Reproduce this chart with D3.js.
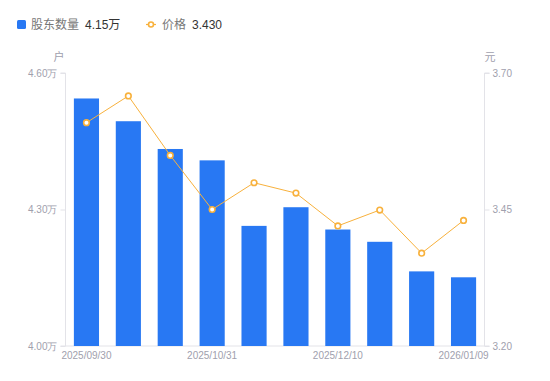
<!DOCTYPE html>
<html><head><meta charset="utf-8">
<script src="https://cdn.jsdelivr.net/npm/d3@7"></script>
<style>
html,body{margin:0;padding:0;background:#fff;}
svg{display:block;font-family:"Liberation Sans","Noto Sans CJK SC",sans-serif;}
</style></head>
<body><svg id="c" width="550" height="381"></svg>
<script>
const categories = ["2025/09/30","2025/10/10","2025/10/20","2025/10/31","2025/11/10","2025/11/20","2025/12/10","2025/12/19","2025/12/31","2026/01/09"];
const holders = [4.544, 4.494, 4.433, 4.408, 4.264, 4.305, 4.256, 4.229, 4.164, 4.151];
const prices = [3.609, 3.658, 3.549, 3.450, 3.499, 3.480, 3.420, 3.449, 3.370, 3.430];
const leftTicks = [4.00, 4.30, 4.60];
const rightTicks = [3.20, 3.45, 3.70];
const xTickLabels = ["2025/09/30","2025/10/31","2025/12/10","2026/01/09"];

const svg = d3.select("#c");
const m = {l:65.5, r:484.5, t:73, b:346};
const x = d3.scaleBand().domain(categories).range([m.l, m.r]).paddingInner(0.4).paddingOuter(0.2);
const yL = d3.scaleLinear().domain([4.00, 4.60]).range([m.b, m.t]);
const yR = d3.scaleLinear().domain([3.20, 3.70]).range([m.b, m.t]);
const axisColor = "#e3e3e8";
const labelColor = "#a0a0ad";

// left axis
const gL = svg.append("g").attr("transform", `translate(${m.l},0)`)
  .call(d3.axisLeft(yL).tickValues(leftTicks).tickSize(5).tickPadding(3).tickFormat(d => d3.format(".2f")(d) + "万"));
// right axis
const gR = svg.append("g").attr("transform", `translate(${m.r},0)`)
  .call(d3.axisRight(yR).tickValues(rightTicks).tickSize(5).tickPadding(3).tickFormat(d3.format(".2f")));
// bottom axis
const gB = svg.append("g").attr("transform", `translate(0,${m.b})`)
  .call(d3.axisBottom(x).tickValues(xTickLabels).tickSize(0).tickPadding(6));
gB.selectAll(".tick text").attr("dy", "0.71em");
[gL, gR, gB].forEach(g => {
  g.selectAll(".domain").attr("stroke", axisColor).attr("stroke-width", 1);
  g.selectAll(".tick line").attr("stroke", axisColor);
  g.selectAll(".tick text").attr("fill", labelColor).attr("font-size", 10);
});
gL.select(".domain").attr("d", `M-5,${m.t}H0V${m.b}H-5`);
gR.select(".domain").attr("d", `M5,${m.t}H0V${m.b}H5`);
gB.select(".domain").attr("d", `M${m.l},0H${m.r}`);

// unit labels
svg.append("text").attr("x", 59).attr("y", 61).attr("text-anchor", "middle")
  .attr("font-size", 11).attr("fill", labelColor).text("户");
svg.append("text").attr("x", 490).attr("y", 61).attr("text-anchor", "middle")
  .attr("font-size", 11).attr("fill", labelColor).text("元");

// bars
svg.append("g").selectAll("rect").data(holders).join("rect")
  .attr("x", (d,i) => x(categories[i]))
  .attr("width", x.bandwidth())
  .attr("y", d => yL(d))
  .attr("height", d => yL(4.00) - yL(d))
  .attr("fill", "#2878f3");

// line
const lineColor = "#f8b13c";
const cx = i => x(categories[i]) + x.bandwidth()/2;
svg.append("path").datum(prices)
  .attr("d", d3.line().x((d,i) => cx(i)).y(d => yR(d)))
  .attr("fill", "none").attr("stroke", lineColor).attr("stroke-width", 1);
svg.append("g").selectAll("circle").data(prices).join("circle")
  .attr("cx", (d,i) => cx(i)).attr("cy", d => yR(d)).attr("r", 2.8)
  .attr("fill", "#fff").attr("stroke", lineColor).attr("stroke-width", 1.6);

// legend
const lg = svg.append("g");
lg.append("rect").attr("x", 17).attr("y", 20).attr("width", 9).attr("height", 9).attr("rx", 1.5).attr("fill", "#2878f3");
lg.append("text").attr("x", 31).attr("y", 29).attr("font-size", 12).attr("fill", "#777").text("股东数量");
lg.append("text").attr("x", 85).attr("y", 29).attr("font-size", 12).attr("fill", "#333").text("4.15万");
lg.append("line").attr("x1", 146).attr("x2", 156).attr("y1", 24.5).attr("y2", 24.5).attr("stroke", lineColor).attr("stroke-width", 1.2);
lg.append("circle").attr("cx", 151).attr("cy", 24.5).attr("r", 2.5).attr("fill", "#fff").attr("stroke", lineColor).attr("stroke-width", 1.6);
lg.append("text").attr("x", 162).attr("y", 29).attr("font-size", 12).attr("fill", "#777").text("价格");
lg.append("text").attr("x", 192).attr("y", 29).attr("font-size", 12).attr("fill", "#333").text("3.430");
</script></body></html>
